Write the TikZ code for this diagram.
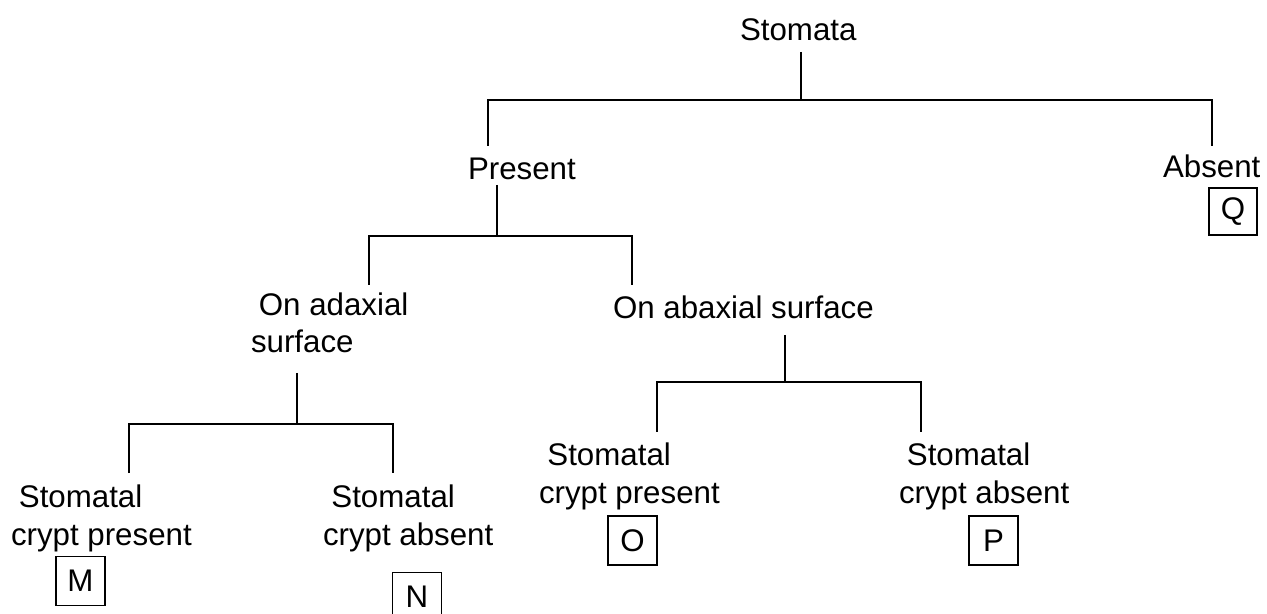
\documentclass[tikz,border=0pt]{standalone}
\usepackage{fontspec}
\setmainfont{Liberation Sans}
\begin{document}
\begin{tikzpicture}[x=0.02cm,y=-0.02cm,
  lbl/.style={inner sep=0pt,outer sep=0pt,anchor=base west,align=left,font=\fontsize{17.8pt}{21.2pt}\selectfont},
  letterbox/.style={draw,line width=1.1pt,inner sep=0pt,minimum width=0.98cm,minimum height=0.98cm,font=\fontsize{17.8pt}{21.2pt}\selectfont},
  conn/.style={line width=1.1pt}]
\useasboundingbox (0,0) rectangle (1267,614);
% labels (multi-line labels are anchored at the baseline of their last line)
\node[lbl] (stomata) at (740,41) {Stomata};
\node[lbl] (present) at (468,180) {Present};
\node[lbl] (absent) at (1163,178) {Absent};
\node[lbl] (adax) at (251,353) {\hspace*{4.5pt}On adaxial\\surface};
\node[lbl] (abax) at (613,319) {On abaxial surface};
\node[lbl] (m) at (11,545) {\hspace*{4.5pt}Stomatal\\crypt present};
\node[lbl] (n) at (323,545) {\hspace*{4.8pt}Stomatal\\crypt absent};
\node[lbl] (o) at (539,503) {\hspace*{4.8pt}Stomatal\\crypt present};
\node[lbl] (p) at (899,503) {\hspace*{4.5pt}Stomatal\\crypt absent};
% letter boxes
\node[letterbox] (bm) at (80.5,581) {M};
\node[letterbox] (bn) at (417,597) {N};
\node[letterbox] (bo) at (632.5,540.5) {O};
\node[letterbox] (bp) at (993.5,540.5) {P};
\node[letterbox,minimum width=0.96cm,minimum height=0.94cm] (bq) at (1233,211.5) {Q};
% connector points
\coordinate (s0) at (801,52);
\coordinate (s1) at (801,100);
\coordinate (sL) at (488,146);
\coordinate (sR) at (1212,146);
\coordinate (p0) at (497,185);
\coordinate (p1) at (497,236);
\coordinate (pL) at (369,285);
\coordinate (pR) at (632,285);
\coordinate (a0) at (297,373);
\coordinate (a1) at (297,424);
\coordinate (aL) at (129,473);
\coordinate (aR) at (393,473);
\coordinate (b0) at (785,335);
\coordinate (b1) at (785,382);
\coordinate (bL) at (657,432);
\coordinate (bR) at (921,432);
% connectors
\draw[conn] (s0) -- (s1);
\draw[conn] (sL) |- (s1) -| (sR);
\draw[conn] (p0) -- (p1);
\draw[conn] (pL) |- (p1) -| (pR);
\draw[conn] (a0) -- (a1);
\draw[conn] (aL) |- (a1) -| (aR);
\draw[conn] (b0) -- (b1);
\draw[conn] (bL) |- (b1) -| (bR);
\end{tikzpicture}
\end{document}
